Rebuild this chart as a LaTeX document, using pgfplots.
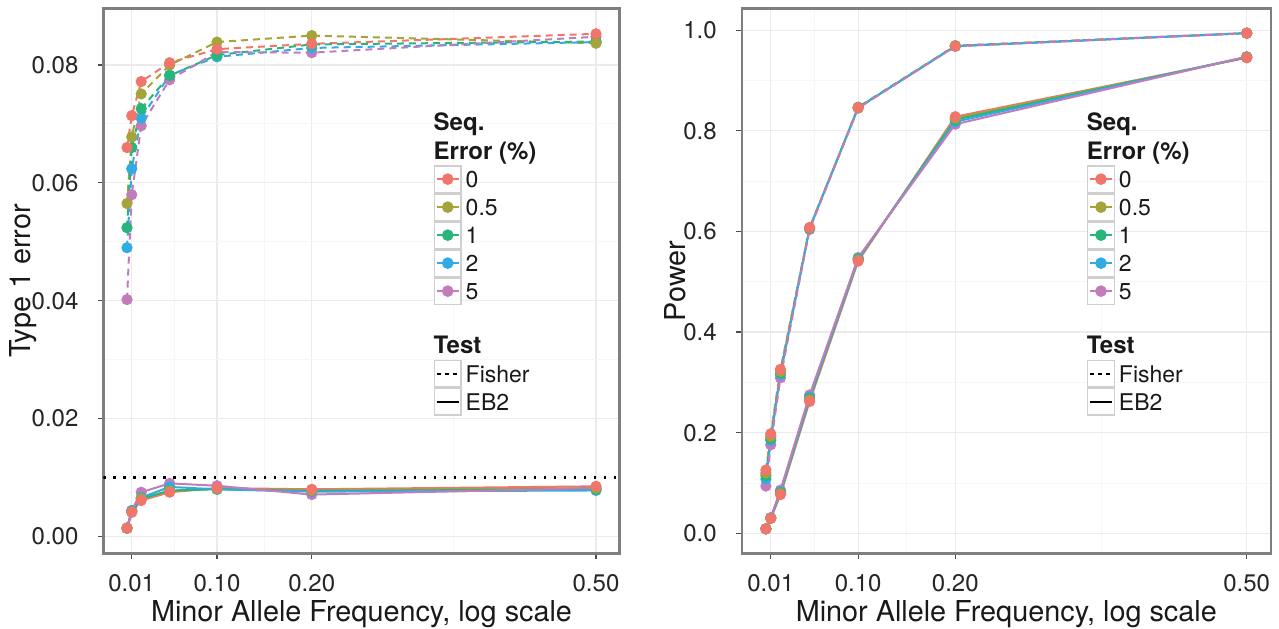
\documentclass[border=0pt]{standalone}
\usepackage{pgfplots}
\pgfplotsset{compat=1.18}
\usepackage{pgfplotstable}
\usepackage{fontspec}
\setmainfont{TeX Gyre Heros}

\definecolor{c0}{HTML}{F0766B}
\definecolor{c05}{HTML}{A5A43A}
\definecolor{c1}{HTML}{28B57B}
\definecolor{c2}{HTML}{30ACE3}
\definecolor{c5}{HTML}{C27CBC}
\definecolor{border}{HTML}{7F7F7F}
\definecolor{keygray}{HTML}{CFCFCF}

% f = Fisher (dashed), e = EB2 (solid); columns by seq. error %
\pgfplotstableread{
x     f0     f05    f1     f2     f5     e0     e05    e1     e2     e5
0.005 0.0660 0.0565 0.0524 0.0490 0.0402 0.0014 0.0014 0.0014 0.0014 0.0014
0.01  0.0714 0.0678 0.0660 0.0624 0.0580 0.0041 0.0042 0.0042 0.0044 0.0044
0.02  0.0772 0.0751 0.0726 0.0710 0.0697 0.0061 0.0064 0.0064 0.0066 0.0075
0.05  0.0804 0.0800 0.0782 0.0783 0.0775 0.0075 0.0077 0.0078 0.0084 0.0090
0.1   0.0827 0.0839 0.0817 0.0814 0.0822 0.0082 0.0081 0.0080 0.0080 0.0086
0.2   0.0836 0.0850 0.0835 0.0829 0.0821 0.0080 0.0078 0.0077 0.0076 0.0071
0.5   0.0853 0.0837 0.0840 0.0839 0.0848 0.0085 0.0082 0.0080 0.0078 0.0082
}\typeone

\pgfplotstableread{
x     f0    f05   f1    f2    f5    e0    e05   e1    e2    e5
0.005 0.126 0.120 0.115 0.108 0.094 0.009 0.009 0.009 0.009 0.009
0.01  0.198 0.193 0.188 0.185 0.176 0.030 0.030 0.030 0.031 0.031
0.02  0.326 0.322 0.319 0.316 0.309 0.077 0.079 0.081 0.083 0.086
0.05  0.608 0.607 0.606 0.606 0.604 0.262 0.265 0.268 0.271 0.275
0.1   0.846 0.846 0.847 0.846 0.845 0.541 0.543 0.545 0.546 0.548
0.2   0.968 0.969 0.969 0.968 0.968 0.828 0.825 0.822 0.818 0.813
0.5   0.994 0.994 0.994 0.994 0.994 0.945 0.946 0.946 0.947 0.947
}\power

\pgfplotsset{
  fisherline/.style={line width=1pt, dash pattern=on 3.5pt off 2.5pt, no markers},
  eb2line/.style={line width=1pt, solid, no markers},
  dots/.style={only marks, mark=*, mark size=2.6pt},
  keybox/.style={legend image code/.code={
      \draw[draw=keygray, line width=0.7pt, fill=white, solid] (0.35pt,-6.65pt) rectangle (13.65pt,6.65pt);
      \draw[mark repeat=2, mark phase=2] plot coordinates {(1.5pt,0pt) (7pt,0pt) (12.5pt,0pt)};
  }},
  ltitle/.style={legend image code/.code={
      \path[draw=none] (0pt,-7.25pt) rectangle (14pt,7.25pt);
      \node[overlay, draw=none, fill=none, anchor=base west, inner sep=0pt, font=\fontsize{12}{14}\selectfont\bfseries, text=black!90] at (0pt,-4.3pt) {#1};
  }},
  spacer/.style={legend image code/.code={\path[draw=none] (0pt,-6.4pt) rectangle (1pt,6.4pt);}},
  ggpanel/.style={
    scale only axis, height=272.5pt,
    xmin=-0.0198, xmax=0.5248,
    xtick={0.01,0.1,0.2,0.5}, xticklabels={0.01,0.10,0.20,0.50},
    minor xtick={0.055,0.15,0.35},
    scaled ticks=false,
    grid=both,
    major grid style={draw=gray!16, line width=0.6pt},
    minor grid style={draw=gray!7, line width=0.5pt},
    axis line style={draw=border, line width=1.3pt},
    tick align=outside, tick pos=left,
    major tick length=2.75pt, minor tick length=0pt,
    tick style={draw=black!70, line width=0.6pt},
    tick label style={font=\fontsize{12}{14}\selectfont, text=black!85},
    xticklabel style={anchor=north, inner sep=0pt, yshift=-7.5pt},
    yticklabel style={anchor=east, inner sep=0pt, xshift=-9.6pt},
    label style={font=\fontsize{14.4}{16}\selectfont, text=black!90},
    xlabel={Minor Allele Frequency, log scale},
    xlabel style={at={(axis description cs:0.5,0)}, anchor=center, yshift=-30.5pt},
    legend cell align=left,
    legend style={draw=none, fill=none, inner sep=0pt, outer sep=0pt, row sep=0pt,
      column sep=2pt, anchor=north west, font=\fontsize{11.5}{13}\selectfont,
      text=black!90, nodes={inner sep=0pt, text depth=0pt}},
  },
}

\newcommand{\seqlegend}{%
  \addlegendimage{ltitle={Seq.}}\addlegendentry{}
  \addlegendimage{ltitle={Error (\%)}}\addlegendentry{}
  \addlegendimage{c0, solid, line width=0.8pt, mark=*, mark size=2.5pt, keybox}\addlegendentry{0}
  \addlegendimage{c05, solid, line width=0.8pt, mark=*, mark size=2.5pt, keybox}\addlegendentry{0.5}
  \addlegendimage{c1, solid, line width=0.8pt, mark=*, mark size=2.5pt, keybox}\addlegendentry{1}
  \addlegendimage{c2, solid, line width=0.8pt, mark=*, mark size=2.5pt, keybox}\addlegendentry{2}
  \addlegendimage{c5, solid, line width=0.8pt, mark=*, mark size=2.5pt, keybox}\addlegendentry{5}
  \addlegendimage{spacer}\addlegendentry{}
  \addlegendimage{ltitle={Test}}\addlegendentry{}
  \addlegendimage{black, line width=0.9pt, dash pattern=on 2pt off 2pt, no markers, keybox}\addlegendentry{Fisher}
  \addlegendimage{black, line width=0.9pt, solid, no markers, keybox}\addlegendentry{EB2}
}

\begin{document}
\begin{tikzpicture}
\useasboundingbox (-51.75pt,-37.25pt) rectangle (587.75pt,276.75pt);

% left: type 1 error
\begin{axis}[ggpanel, width=258pt,
    ymin=-0.0029, ymax=0.0896,
    ytick={0,0.02,0.04,0.06,0.08}, yticklabels={0.00,0.02,0.04,0.06,0.08},
    minor ytick={0.01,0.03,0.05,0.07},
    ylabel={Type 1 error},
    ylabel style={at={(axis description cs:-0.155,0.5)}, anchor=center},
    legend style={at={(0.640,0.819)}}]
  \addplot[black, line width=1.3pt, dash pattern=on 1.2pt off 3.8pt, forget plot]
    coordinates {(-0.0198,0.01) (0.5248,0.01)};
  \pgfplotsinvokeforeach{0,05,1,2,5}{
    \addplot[c#1, fisherline, forget plot] table[x=x, y=f#1] {\typeone};
    \addplot[c#1, eb2line, forget plot] table[x=x, y=e#1] {\typeone};
  }
  \pgfplotsinvokeforeach{5,2,1,05,0}{
    \addplot[c#1, dots, forget plot] table[x=x, y=f#1] {\typeone};
    \addplot[c#1, dots, forget plot] table[x=x, y=e#1] {\typeone};
  }
  \seqlegend
\end{axis}

% right: power
\begin{axis}[ggpanel, width=264.5pt, at={(319.15pt,0pt)}, anchor=south west,
    ymin=-0.040, ymax=1.043,
    ytick={0,0.2,0.4,0.6,0.8,1}, yticklabels={0.0,0.2,0.4,0.6,0.8,1.0},
    minor ytick={0.1,0.3,0.5,0.7,0.9},
    ylabel={Power},
    ylabel style={at={(axis description cs:-0.126,0.5)}, anchor=center},
    legend style={at={(0.6525,0.819)}}]
  \pgfplotsinvokeforeach{0,05,1,2,5}{
    \addplot[c#1, fisherline, forget plot] table[x=x, y=f#1] {\power};
    \addplot[c#1, eb2line, forget plot] table[x=x, y=e#1] {\power};
  }
  \pgfplotsinvokeforeach{5,2,1,05,0}{
    \addplot[c#1, dots, forget plot] table[x=x, y=f#1] {\power};
    \addplot[c#1, dots, forget plot] table[x=x, y=e#1] {\power};
  }
  \seqlegend
\end{axis}
\end{tikzpicture}
\end{document}
